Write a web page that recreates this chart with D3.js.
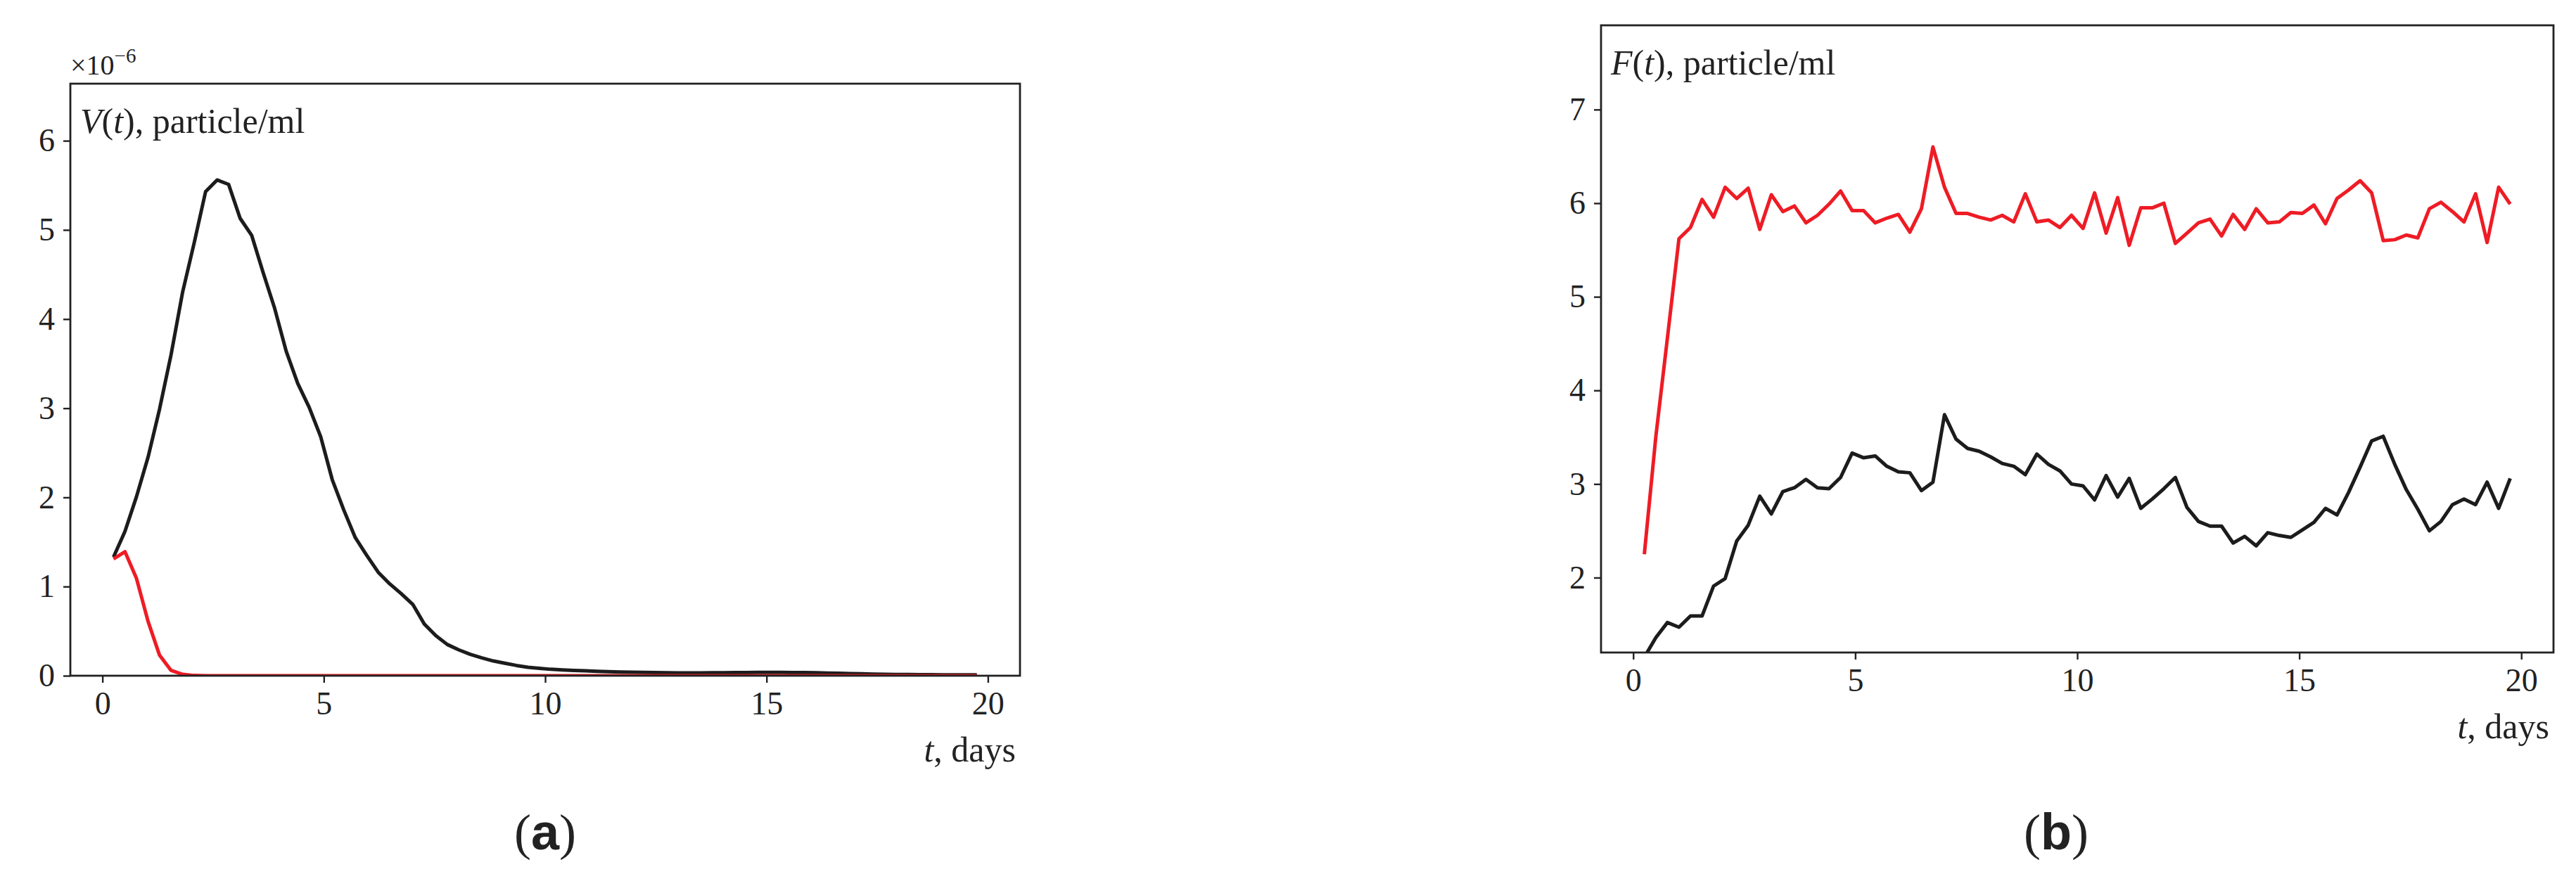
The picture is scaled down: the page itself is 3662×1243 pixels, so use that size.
<!DOCTYPE html>
<html>
<head>
<meta charset="utf-8">
<script src="https://cdn.jsdelivr.net/npm/d3@7"></script>
<style>
  body { margin: 0; background: #fff; }
  text { font-family: "Liberation Serif", "DejaVu Serif", serif; fill: #222; }
</style>
</head>
<body>
<svg width="3662" height="1243"></svg>
<script>
// time grid: 76 samples from 0.25 to 19.75 days
const nPts = 76;
const tDays = d3.range(nPts).map(i => 0.25 + i * 19.5 / (nPts - 1));

// panel (a): V(t), units of 1e-6
const vBlack = [1.33, 1.62, 2.01, 2.45, 2.99, 3.60, 4.30, 4.85, 5.43, 5.56,
  5.51, 5.13, 4.94, 4.52, 4.12, 3.64, 3.28, 3.01, 2.68, 2.20,
  1.86, 1.55, 1.35, 1.16, 1.03, 0.92, 0.80, 0.58, 0.45, 0.35,
  0.29, 0.24, 0.20, 0.165, 0.14, 0.115, 0.095, 0.083, 0.072, 0.065,
  0.06, 0.055, 0.05, 0.045, 0.042, 0.04, 0.037, 0.035, 0.033, 0.032,
  0.032, 0.032, 0.033, 0.034, 0.035, 0.036, 0.037, 0.037, 0.037, 0.036,
  0.035, 0.033, 0.03, 0.027, 0.024, 0.021, 0.018, 0.016, 0.014, 0.013,
  0.012, 0.011, 0.01, 0.01, 0.009, 0.009];
const vRed = [1.31, 1.39, 1.09, 0.61, 0.23, 0.06, 0.015, 0.003].concat(d3.range(nPts - 8).map(() => 0));

// panel (b): F(t)
const fRed = [2.25, 3.51, 4.56, 5.62, 5.74, 6.04, 5.85, 6.17, 6.05, 6.16,
  5.72, 6.09, 5.91, 5.97, 5.79, 5.87, 5.99, 6.13, 5.92, 5.92,
  5.79, 5.84, 5.88, 5.69, 5.94, 6.60, 6.17, 5.89, 5.89, 5.85,
  5.82, 5.87, 5.80, 6.10, 5.80, 5.82, 5.74, 5.87, 5.73, 6.11,
  5.68, 6.06, 5.55, 5.95, 5.95, 6.00, 5.57, 5.68, 5.79, 5.83,
  5.65, 5.88, 5.72, 5.94, 5.79, 5.80, 5.90, 5.89, 5.98, 5.78,
  6.05, 6.14, 6.24, 6.11, 5.60, 5.61, 5.66, 5.63, 5.94, 6.01,
  5.91, 5.80, 6.10, 5.58, 6.17, 5.99];
const fBlack = [1.15, 1.36, 1.52, 1.47, 1.59, 1.59, 1.91, 1.99, 2.39, 2.56,
  2.87, 2.68, 2.92, 2.96, 3.05, 2.96, 2.95, 3.07, 3.33, 3.28,
  3.30, 3.19, 3.13, 3.12, 2.93, 3.02, 3.74, 3.48, 3.38, 3.35,
  3.29, 3.22, 3.19, 3.10, 3.32, 3.21, 3.14, 3.00, 2.98, 2.83,
  3.09, 2.86, 3.06, 2.74, 2.84, 2.95, 3.07, 2.75, 2.60, 2.55,
  2.55, 2.37, 2.44, 2.34, 2.48, 2.45, 2.43, 2.51, 2.59, 2.74,
  2.67, 2.91, 3.18, 3.46, 3.51, 3.21, 2.94, 2.73, 2.50, 2.60,
  2.78, 2.84, 2.78, 3.02, 2.74, 3.06];

const xTicks = [0, 5, 10, 15, 20];
const yTicksA = [0, 1, 2, 3, 4, 5, 6];
const yTicksB = [2, 3, 4, 5, 6, 7];

const black = "#1c1c1c", red = "#ee1c25";
const svg = d3.select("svg");

function panel(cfg) {
  const g = svg.append("g");
  const x = d3.scaleLinear().domain([-0.725, 20.725]).range([cfg.left, cfg.right]);
  const y = d3.scaleLinear().domain(cfg.yDomain).range([cfg.bottom, cfg.top]);

  const clipId = "clip" + cfg.name;
  g.append("clipPath").attr("id", clipId).append("rect")
    .attr("x", cfg.left).attr("y", cfg.top)
    .attr("width", cfg.right - cfg.left).attr("height", cfg.bottom - cfg.top);

  const line = d3.line().x((d, i) => x(tDays[i])).y(d => y(d));
  cfg.series.forEach(s => {
    g.append("path").datum(s.values)
      .attr("clip-path", `url(#${clipId})`)
      .attr("d", line).attr("fill", "none")
      .attr("stroke", s.color).attr("stroke-width", 5)
      .attr("stroke-linejoin", "round");
  });

  // axes
  const fmt = d3.format("d");
  const ax = g.append("g").attr("transform", `translate(0,${cfg.bottom})`)
    .call(d3.axisBottom(x).tickValues(xTicks).tickFormat(fmt).tickSize(10).tickPadding(12));
  const ay = g.append("g").attr("transform", `translate(${cfg.left},0)`)
    .call(d3.axisLeft(y).tickValues(cfg.yTicks).tickFormat(fmt).tickSize(10).tickPadding(12));
  [ax, ay].forEach(a => {
    a.select(".domain").remove();
    a.selectAll("line").attr("stroke", "#222").attr("stroke-width", 2.4);
    a.selectAll("text").style("font-size", "46px").style("font-family", "Liberation Serif").attr("fill", "#222");
  });

  g.append("rect").attr("x", cfg.left).attr("y", cfg.top)
    .attr("width", cfg.right - cfg.left).attr("height", cfg.bottom - cfg.top)
    .attr("fill", "none").attr("stroke", "#222").attr("stroke-width", 2.8);

  // label inside
  const lab = g.append("text").attr("x", cfg.left + 14).attr("y", cfg.top + 70)
    .style("font-size", "50px");
  lab.append("tspan").attr("font-style", "italic").text(cfg.sym);
  lab.append("tspan").text("(");
  lab.append("tspan").attr("font-style", "italic").text("t");
  lab.append("tspan").text("), particle/ml");

  const tl = g.append("text").attr("x", cfg.right - 6).attr("y", cfg.bottom + 122)
    .attr("text-anchor", "end").style("font-size", "50px");
  tl.append("tspan").attr("font-style", "italic").text("t");
  tl.append("tspan").text(", days");

  const cap = g.append("text").attr("x", (cfg.left + cfg.right) / 2 + cfg.capShift).attr("y", 1208)
    .attr("text-anchor", "middle").style("font-size", "72px");
  cap.append("tspan").text("(");
  cap.append("tspan").attr("font-weight", "bold").style("font-family", "Liberation Sans").text(cfg.name);
  cap.append("tspan").text(")");
  return g;
}

const ga = panel({
  name: "a", sym: "V", left: 100, right: 1450, top: 119, bottom: 961,
  yDomain: [0, 6.64], yTicks: yTicksA, capShift: 0,
  series: [{ values: vBlack, color: black }, { values: vRed, color: red }]
});
const sci = ga.append("text").attr("x", 100).attr("y", 106).style("font-size", "40px");
sci.append("tspan").text("×10");
sci.append("tspan").attr("dy", -17).style("font-size", "29px").text("−6");

panel({
  name: "b", sym: "F", left: 2276, right: 3630, top: 36, bottom: 928,
  yDomain: [1.2, 7.9], yTicks: yTicksB, capShift: -30,
  series: [{ values: fBlack, color: black }, { values: fRed, color: red }]
});
</script>
</body>
</html>
